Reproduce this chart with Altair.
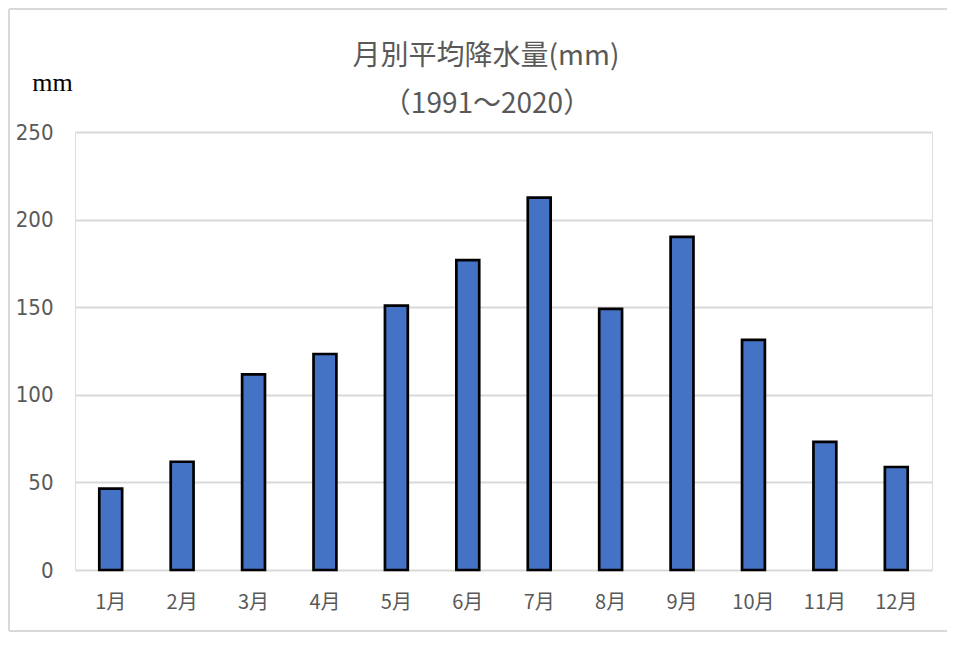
import altair as alt
import pandas as pd

months = ["1月", "2月", "3月", "4月", "5月", "6月", "7月", "8月", "9月", "10月", "11月", "12月"]
rain = [46.4, 61.8, 111.7, 123.3, 150.9, 176.9, 212.5, 149.1, 190.1, 131.3, 73.1, 58.8]
y_ticks = [0, 50, 100, 150, 200, 250]
title_lines = ["月別平均降水量(mm)", "（1991～2020）"]

df = pd.DataFrame({"month": months, "rain": rain})
df_t1 = pd.DataFrame({"t": [title_lines[0]]})
df_t2 = pd.DataFrame({"t": [title_lines[1]]})

W, H = 857, 438
PL, PT, PR, PB = 67, 124, 15, 62

bars = alt.Chart(df).mark_bar(
    color="#4472c4", stroke="#000000", strokeWidth=2.7
).encode(
    x=alt.X("month:N", sort=months,
            scale=alt.Scale(paddingInner=0.68, paddingOuter=0.34),
            axis=alt.Axis(title=None, labelAngle=0, domain=False, ticks=False,
                          labelPadding=22, labelFontSize=20, labelColor="#595959",
                          labelFont="Noto Sans CJK JP", grid=False)),
    y=alt.Y("rain:Q", scale=alt.Scale(domain=[0, 250], nice=False),
            axis=alt.Axis(values=y_ticks, title="mm", titleAngle=0,
                          titleX=-23, titleY=-50, titleAlign="center",
                          titleBaseline="middle", titleFont="Liberation Serif",
                          titleFontSize=26, titleFontWeight="normal", titleColor="#000000",
                          domain=False, ticks=False, labelPadding=22,
                          labelFontSize=22, labelColor="#595959",
                          labelFont="DejaVu Sans Condensed",
                          gridColor="#d9d9d9", gridWidth=2))
)

frame_top = alt.Chart(df_t1).mark_rule(stroke="#d9d9d9", strokeWidth=2).encode(
    x=alt.value(-PL + 1), x2=alt.value(W + PR + 40), y=alt.value(-PT + 1)
)
frame_left = alt.Chart(df_t1).mark_rule(stroke="#d9d9d9", strokeWidth=2).encode(
    x=alt.value(-PL + 1), y=alt.value(-PT + 1), y2=alt.value(H + PB - 1)
)
frame_bottom = alt.Chart(df_t1).mark_rule(stroke="#d9d9d9", strokeWidth=2).encode(
    x=alt.value(-PL + 1), x2=alt.value(W + PR + 40), y=alt.value(H + PB - 1)
)

t1 = alt.Chart(df_t1).mark_text(
    fontSize=28, color="#595959", font="Noto Sans CJK JP", align="center", baseline="middle"
).encode(text="t:N", x=alt.value(411), y=alt.value(-75))

t2 = alt.Chart(df_t2).mark_text(
    fontSize=28, color="#595959", font="Noto Sans CJK JP", align="center", baseline="middle"
).encode(text="t:N", x=alt.value(412), y=alt.value(-27))

chart = alt.layer(frame_top, frame_left, frame_bottom, bars, t1, t2).properties(
    width=W, height=H,
    padding={"left": PL, "top": PT, "right": PR, "bottom": PB},
    autosize=alt.AutoSizeParams(type="none"),
).configure_view(fill="#f2f2f2", stroke=None).configure(background="#ffffff")

chart.save("out.html", embed_options={"renderer": "svg", "actions": False})
